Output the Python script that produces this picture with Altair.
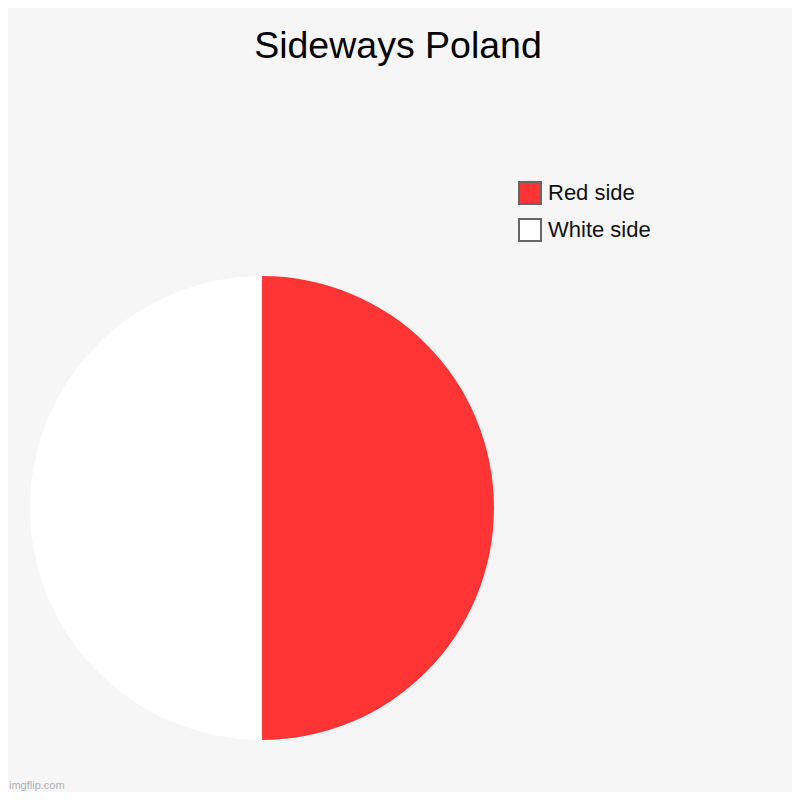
import altair as alt
import pandas as pd

categories = ["Red side", "White side"]
values = [50, 50]
colors = ["#ff3535", "#ffffff"]
title_text = "Sideways Poland"
watermark = "imgflip.com"

df = pd.DataFrame({"side": categories, "value": values, "idx": list(range(len(categories)))})

W, H = 784, 784
FONT = "Liberation Sans"

pie = alt.Chart(df).mark_arc(radius=232, stroke=None).encode(
    theta=alt.Theta("value:Q", stack=True),
    order=alt.Order("idx:Q"),
    color=alt.Color(
        "side:N",
        scale=alt.Scale(domain=categories, range=colors),
        legend=alt.Legend(
            title=None,
            orient="none",
            legendX=510,
            legendY=173,
            symbolType="square",
            symbolSize=484,
            symbolStrokeColor="#666666",
            symbolStrokeWidth=2,
            symbolOpacity=1,
            labelFontSize=22,
            labelFont=FONT,
            labelColor="#111111",
            labelOffset=6,
            rowPadding=7,
        ),
    ),
    x=alt.value(254),
    y=alt.value(500),
)

title = alt.Chart(pd.DataFrame({"t": [title_text]})).mark_text(
    fontSize=37.5, font=FONT, color="#000000", baseline="alphabetic", align="center"
).encode(text="t:N", x=alt.value(W / 2 - 2), y=alt.value(50))

wm = alt.Chart(pd.DataFrame({"t": [watermark]})).mark_text(
    fontSize=11, font=FONT, color="#b0b0b0", baseline="alphabetic", align="left"
).encode(text="t:N", x=alt.value(1), y=alt.value(781))

chart = alt.layer(pie, title, wm).properties(
    width=W, height=H, background="#f6f6f6", padding=0,
    autosize=alt.AutoSizeParams(type="none"),
).configure_view(stroke=None)

chart.save("out.html", embed_options={"renderer": "svg", "actions": False})
